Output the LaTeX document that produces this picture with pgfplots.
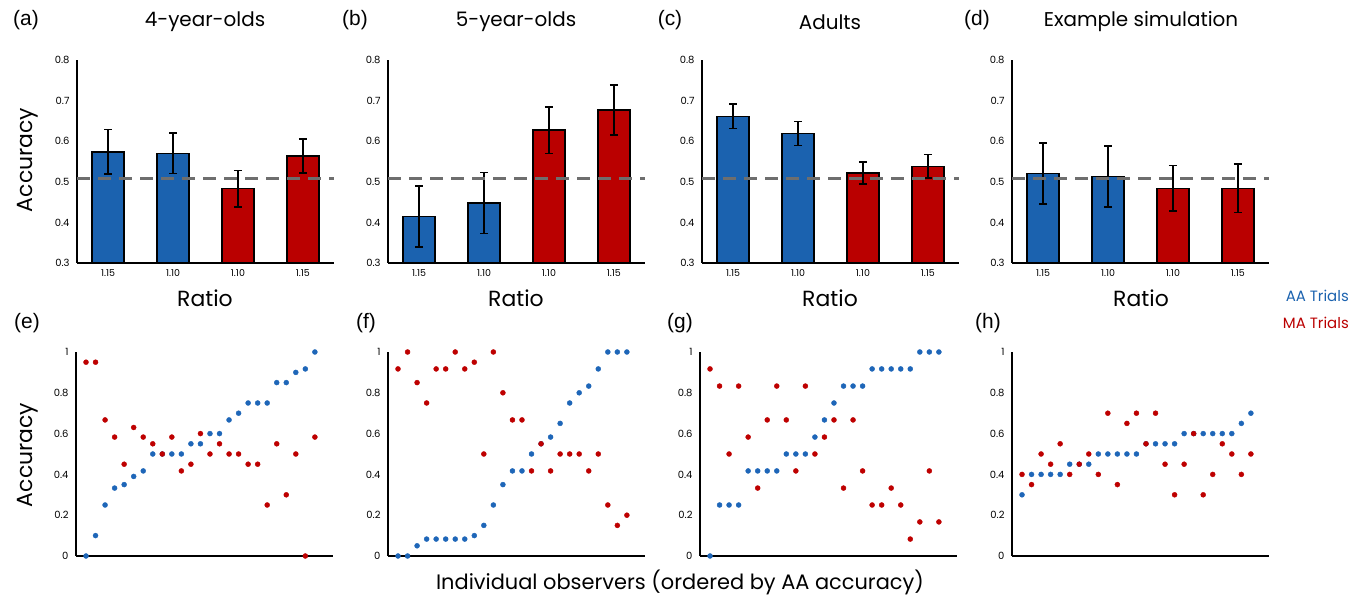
\documentclass[border=0pt]{standalone}
\usepackage{pgfplots}
\pgfplotsset{compat=1.18}
\usepackage{pgfplotstable}
\usepackage{fontspec}
\setmainfont{Poppins}
\newfontfamily\arialf{Liberation Sans}
\definecolor{barB}{RGB}{27,98,175}
\definecolor{barR}{RGB}{186,0,0}
\definecolor{dotB}{RGB}{30,102,184}
\definecolor{dotR}{RGB}{190,0,0}
\definecolor{dashG}{RGB}{110,110,110}
\newcommand\tickfont{\fontsize{10}{12}\selectfont}
\newcommand\xtickfont{\fontsize{9.5}{11}\selectfont}

\pgfplotstableread{
x b r
1 0 0.95
2 0.1 0.95
3 0.25 0.667
4 0.333 0.583
5 0.35 0.45
6 0.39 0.63
7 0.417 0.583
8 0.5 0.55
9 0.5 0.5
10 0.5 0.583
11 0.5 0.417
12 0.55 0.45
13 0.55 0.6
14 0.6 0.5
15 0.6 0.55
16 0.667 0.5
17 0.7 0.5
18 0.75 0.45
19 0.75 0.45
20 0.75 0.25
21 0.85 0.55
22 0.85 0.3
23 0.9 0.5
24 0.917 0
25 1 0.583
}\tabE
\pgfplotstableread{
x b r
1 0 0.917
2 0 1
3 0.05 0.85
4 0.083 0.75
5 0.083 0.917
6 0.083 0.917
7 0.083 1
8 0.083 0.917
9 0.1 0.95
10 0.15 0.5
11 0.25 1
12 0.35 0.8
13 0.417 0.667
14 0.417 0.667
15 0.5 0.417
16 0.55 0.55
17 0.583 0.417
18 0.65 0.5
19 0.75 0.5
20 0.8 0.5
21 0.833 0.417
22 0.917 0.5
23 1 0.25
24 1 0.15
25 1 0.2
}\tabF
\pgfplotstableread{
x b r
1 0 0.917
2 0.25 0.833
3 0.25 0.5
4 0.25 0.833
5 0.417 0.583
6 0.417 0.333
7 0.417 0.667
8 0.417 0.833
9 0.5 0.667
10 0.5 0.417
11 0.5 0.833
12 0.583 0.5
13 0.667 0.583
14 0.75 0.667
15 0.833 0.333
16 0.833 0.667
17 0.833 0.417
18 0.917 0.25
19 0.917 0.25
20 0.917 0.333
21 0.917 0.25
22 0.917 0.083
23 1 0.167
24 1 0.417
25 1 0.167
}\tabG
\pgfplotstableread{
x b r
1 0.3 0.4
2 0.4 0.35
3 0.4 0.5
4 0.4 0.45
5 0.4 0.55
6 0.45 0.4
7 0.45 0.45
8 0.45 0.5
9 0.5 0.4
10 0.5 0.7
11 0.5 0.35
12 0.5 0.65
13 0.5 0.7
14 0.55 0.55
15 0.55 0.7
16 0.55 0.45
17 0.55 0.3
18 0.6 0.45
19 0.6 0.6
20 0.6 0.3
21 0.6 0.4
22 0.6 0.55
23 0.6 0.5
24 0.65 0.4
25 0.7 0.5
}\tabH

\pgfplotsset{
  common/.style={scale only axis, width=257bp, anchor=south west,
    axis lines=left, axis line style={-, line width=1.6bp, black},
    major tick length=0pt, tick style={draw=none},
    /pgf/number format/assume math mode=true,
    yticklabel style={font=\tickfont, xshift=-4bp},
    xticklabel style={font=\xtickfont, yshift=-3bp}},
  topax/.style={common, height=203bp, xmin=-0.48, xmax=3.48, ymin=0.3, ymax=0.8,
    ytick={0.3,0.4,0.5,0.6,0.7,0.8},
    yticklabel style={/pgf/number format/fixed, /pgf/number format/fixed zerofill, /pgf/number format/precision=1},
    xtick={0,1,2,3}, xticklabels={1.15,1.10,1.10,1.15}},
  botax/.style={common, height=204bp, xmin=-0.05, xmax=26.9, ymin=0, ymax=1,
    ytick={0,0.2,0.4,0.6,0.8,1}, xtick=\empty, clip=false},
  barB/.style={ybar, bar width=32bp, bar shift=0pt, fill=barB, draw=black, line width=1.5bp,
    error bars/.cd, y dir=both, y explicit,
    error bar style={line width=1.6bp, black},
    error mark options={rotate=90, mark size=4bp, line width=1.6bp, black}},
  barR/.style={ybar, bar width=32bp, bar shift=0pt, fill=barR, draw=black, line width=1.5bp,
    error bars/.cd, y dir=both, y explicit,
    error bar style={line width=1.6bp, black},
    error mark options={rotate=90, mark size=4bp, line width=1.6bp, black}},
  chance/.style={dashG, line width=2.6bp, dash pattern=on 13bp off 8bp},
  dB/.style={only marks, mark=*, mark size=2.5bp, dotB, mark options={draw=none, fill=dotB}},
  dR/.style={only marks, mark=*, mark size=2.5bp, dotR, mark options={draw=none, fill=dotR}},
}

\begin{document}
\begin{tikzpicture}
\useasboundingbox (0bp,0bp) rectangle (1364bp,598bp);

% ---- top row ----
\begin{axis}[topax, at={(77bp,335bp)}]
\addplot[barB] coordinates {(0,0.574) +- (0,0.055) (1,0.570) +- (0,0.050)};
\addplot[barR] coordinates {(2,0.483) +- (0,0.045) (3,0.564) +- (0,0.042)};
\addplot[chance] coordinates {(-0.48,0.508) (3.48,0.508)};
\end{axis}

\begin{axis}[topax, at={(388bp,335bp)}]
\addplot[barB] coordinates {(0,0.415) +- (0,0.075) (1,0.448) +- (0,0.075)};
\addplot[barR] coordinates {(2,0.627) +- (0,0.057) (3,0.677) +- (0,0.061)};
\addplot[chance] coordinates {(-0.48,0.508) (3.48,0.508)};
\end{axis}

\begin{axis}[topax, at={(702bp,335bp)}]
\addplot[barB] coordinates {(0,0.661) +- (0,0.030) (1,0.619) +- (0,0.030)};
\addplot[barR] coordinates {(2,0.522) +- (0,0.027) (3,0.538) +- (0,0.029)};
\addplot[chance] coordinates {(-0.48,0.508) (3.48,0.508)};
\end{axis}

\begin{axis}[topax, at={(1012bp,335bp)}]
\addplot[barB] coordinates {(0,0.521) +- (0,0.075) (1,0.513) +- (0,0.075)};
\addplot[barR] coordinates {(2,0.484) +- (0,0.056) (3,0.484) +- (0,0.060)};
\addplot[chance] coordinates {(-0.48,0.508) (3.48,0.508)};
\end{axis}

% ---- bottom row ----
\begin{axis}[botax, at={(76bp,42bp)}]
\addplot[dB] table[x=x,y=b]{\tabE};
\addplot[dR] table[x=x,y=r]{\tabE};
\end{axis}
\begin{axis}[botax, at={(388bp,42bp)}]
\addplot[dB] table[x=x,y=b]{\tabF};
\addplot[dR] table[x=x,y=r]{\tabF};
\end{axis}
\begin{axis}[botax, at={(700bp,42bp)}]
\addplot[dB] table[x=x,y=b]{\tabG};
\addplot[dR] table[x=x,y=r]{\tabG};
\end{axis}
\begin{axis}[botax, at={(1012bp,42bp)}]
\addplot[dB] table[x=x,y=b]{\tabH};
\addplot[dR] table[x=x,y=r]{\tabH};
\end{axis}

% ---- labels ----
\begin{scope}[every node/.style={inner sep=0pt}]
\node[font=\arialf\fontsize{21}{24}\selectfont] at (26bp,578bp) {(a)};
\node[font=\arialf\fontsize{21}{24}\selectfont] at (355bp,578bp) {(b)};
\node[font=\arialf\fontsize{21}{24}\selectfont] at (670bp,578bp) {(c)};
\node[font=\arialf\fontsize{21}{24}\selectfont] at (977bp,578bp) {(d)};
\node[font=\arialf\fontsize{21}{24}\selectfont] at (27bp,275bp) {(e)};
\node[font=\arialf\fontsize{21}{24}\selectfont] at (366bp,275bp) {(f)};
\node[font=\arialf\fontsize{21}{24}\selectfont] at (680bp,275bp) {(g)};
\node[font=\arialf\fontsize{21}{24}\selectfont] at (988bp,275bp) {(h)};

\node[font=\fontsize{20}{23}\selectfont] at (205bp,576bp) {4-year-olds};
\node[font=\fontsize{20}{23}\selectfont] at (516bp,576bp) {5-year-olds};
\node[font=\fontsize{20}{23}\selectfont] at (830bp,576bp) {Adults};
\node[font=\fontsize{20}{23}\selectfont] at (1141bp,576bp) {Example simulation};

\node[font=\fontsize{22}{25}\selectfont, rotate=90] at (28bp,438bp) {Accuracy};
\node[font=\fontsize{22}{25}\selectfont, rotate=90] at (28bp,143bp) {Accuracy};

\node[font=\fontsize{22}{25}\selectfont] at (205bp,300bp) {Ratio};
\node[font=\fontsize{22}{25}\selectfont] at (516bp,300bp) {Ratio};
\node[font=\fontsize{22}{25}\selectfont] at (830bp,300bp) {Ratio};
\node[font=\fontsize{22}{25}\selectfont] at (1141bp,300bp) {Ratio};

\node[font=\fontsize{15}{18}\selectfont, text=barB, anchor=east] at (1349bp,302bp) {AA Trials};
\node[font=\fontsize{15}{18}\selectfont, text=barR, anchor=east] at (1349bp,275bp) {MA Trials};

\node[font=\fontsize{21}{24}\selectfont] at (680bp,16bp) {Individual observers (ordered by AA accuracy)};
\end{scope}
\end{tikzpicture}
\end{document}
